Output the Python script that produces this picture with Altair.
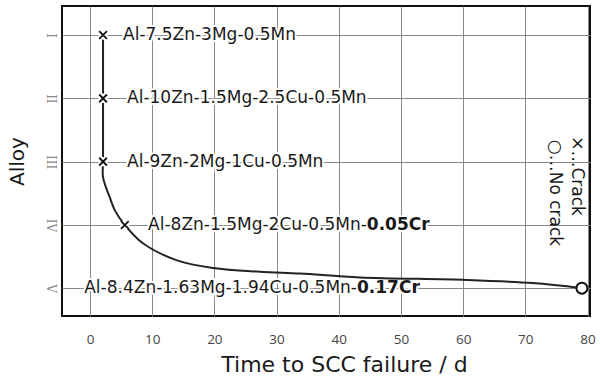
import altair as alt
import pandas as pd

# ---- data ----
roman_labels = ["I", "II", "III", "IV", "V"]
alloy_levels = [1, 2, 3, 4, 5]

crack_days = [2.1, 2.1, 2.1, 5.6]
crack_alloy = [1, 2, 3, 4]
nocrack_days = [79.1]
nocrack_alloy = [5]

curve_days = [2.1, 2.1, 2.1, 2.1, 3.2, 4.0, 5.6, 8.5, 14.0, 19.8, 27.3, 33.8, 43.4, 60.6, 71.2, 79.1]
curve_alloy = [1, 2, 3, 3.25, 3.57, 3.77, 4.0, 4.29, 4.56, 4.68, 4.74, 4.77, 4.83, 4.87, 4.92, 5.0]

label_main = ["Al-7.5Zn-3Mg-0.5Mn", "Al-10Zn-1.5Mg-2.5Cu-0.5Mn", "Al-9Zn-2Mg-1Cu-0.5Mn",
              "Al-8Zn-1.5Mg-2Cu-0.5Mn-", "Al-8.4Zn-1.63Mg-1.94Cu-0.5Mn-"]
label_bold = ["", "", "", "0.05Cr", "0.17Cr"]
label_days = [2.1, 2.1, 2.1, 5.6, 0]
x_ticks = [0, 10, 20, 30, 40, 50, 60, 70, 80]

# ---- styles ----
FONT = "DejaVu Sans"
TXT = "#1a1a1a"
label_dx = [20, 24, 24, 242, 267]      # regular: left offset; bold ones: junction offset
label_align = ["left", "left", "left", "right", "right"]

xscale = alt.Scale(domain=[-4.5, 80.4], nice=False, zero=False)
yscale = alt.Scale(domain=[0.54, 5.44], reverse=True, nice=False, zero=False)

x_axis = alt.Axis(values=x_ticks, title="Time to SCC failure / d", grid=True, ticks=False, domain=False,
                  labelFont="Open Sans", labelFontSize=13.5, labelColor="#444", labelPadding=16,
                  titleFont=FONT, titleFontSize=22, titleFontWeight="normal", titleColor=TXT,
                  titleX=282, titleY=48, titleBaseline="middle", titleAlign="center")
y_axis = alt.Axis(values=alloy_levels, title="Alloy", grid=True, ticks=False, domain=False,
                  labelExpr="['','I','II','III','IV','V'][datum.value]",
                  labelFont="DejaVu Serif", labelFontSize=12, labelColor="#8a8a8a",
                  labelAngle=90, labelAlign="center", labelBaseline="middle", labelPadding=12,
                  titleFont=FONT, titleFontSize=20, titleFontWeight="normal", titleColor=TXT,
                  titleX=-45, titleY=155, titleAngle=-90, titleAlign="center", titleBaseline="middle")


def X():
    return alt.X("days:Q", scale=xscale, axis=x_axis)


def Y():
    return alt.Y("alloy:Q", scale=yscale, axis=y_axis)


curve_df = pd.DataFrame({"days": curve_days, "alloy": curve_alloy, "order": range(len(curve_days))})
crack_df = pd.DataFrame({"days": crack_days, "alloy": crack_alloy})
nocrack_df = pd.DataFrame({"days": nocrack_days, "alloy": nocrack_alloy})

layers = []

# text halos (white background behind labels)
for i in range(5):
    df = pd.DataFrame({"days": [label_days[i]], "alloy": [alloy_levels[i]], "t": [label_main[i]]})
    layers.append(alt.Chart(df).mark_text(font=FONT, fontSize=17, align=label_align[i], baseline="middle",
                                          dx=label_dx[i], fill="white", stroke="white", strokeWidth=4,
                                          strokeJoin="round")
                  .encode(x=X(), y=Y(), text="t:N"))
    if label_bold[i]:
        dfb = pd.DataFrame({"days": [label_days[i]], "alloy": [alloy_levels[i]], "t": [label_bold[i]]})
        layers.append(alt.Chart(dfb).mark_text(font=FONT, fontSize=17, fontWeight="bold", align="left",
                                               baseline="middle", dx=label_dx[i], fill="white",
                                               stroke="white", strokeWidth=4, strokeJoin="round")
                      .encode(x=X(), y=Y(), text="t:N"))

# curve
layers.append(alt.Chart(curve_df).mark_line(color="#222", strokeWidth=2, interpolate="catmull-rom")
              .encode(x=X(), y=Y(), order="order:Q"))

# white gaps around markers
layers.append(alt.Chart(crack_df).mark_point(shape="circle", filled=True, color="white", size=90, opacity=1)
              .encode(x=X(), y=Y()))

# crack markers (x)
layers.append(alt.Chart(crack_df).mark_point(shape="M-1,-1L1,1M-1,1L1,-1", filled=False, color="#111",
                                             strokeWidth=1.8, size=60, opacity=1)
              .encode(x=X(), y=Y()))

# no-crack marker (o)
layers.append(alt.Chart(nocrack_df).mark_point(shape="circle", filled=False, fill="white", color="#111",
                                               strokeWidth=2, size=120, opacity=1)
              .encode(x=X(), y=Y()))

# label texts
for i in range(5):
    df = pd.DataFrame({"days": [label_days[i]], "alloy": [alloy_levels[i]], "t": [label_main[i]]})
    layers.append(alt.Chart(df).mark_text(font=FONT, fontSize=17, align=label_align[i], baseline="middle",
                                          dx=label_dx[i], color=TXT)
                  .encode(x=X(), y=Y(), text="t:N"))
    if label_bold[i]:
        dfb = pd.DataFrame({"days": [label_days[i]], "alloy": [alloy_levels[i]], "t": [label_bold[i]]})
        layers.append(alt.Chart(dfb).mark_text(font=FONT, fontSize=17, fontWeight="bold", align="left",
                                               baseline="middle", dx=label_dx[i], color=TXT)
                      .encode(x=X(), y=Y(), text="t:N"))

# legend (rotated text)
layers.append(alt.Chart(crack_df.head(1)).mark_text(font=FONT, fontSize=17, angle=90, align="center",
                                                     baseline="middle", color=TXT)
              .encode(x=alt.value(515), y=alt.value(170), text=alt.value("×…Crack")))
layers.append(alt.Chart(crack_df.head(1)).mark_text(font=FONT, fontSize=17, angle=90, align="center",
                                                     baseline="middle", color=TXT)
              .encode(x=alt.value(493), y=alt.value(187), text=alt.value("○…No crack")))

chart = alt.layer(*layers).properties(
    width=528, height=310,
    autosize=alt.AutoSizeParams(type="none"),
    padding={"left": 62, "top": 6, "right": 10, "bottom": 69},
    background="white",
).configure_view(stroke="#111", strokeWidth=2).configure_axis(gridColor="#888888", gridWidth=1)

chart.save("out.html", embed_options={"renderer": "svg", "actions": False})
